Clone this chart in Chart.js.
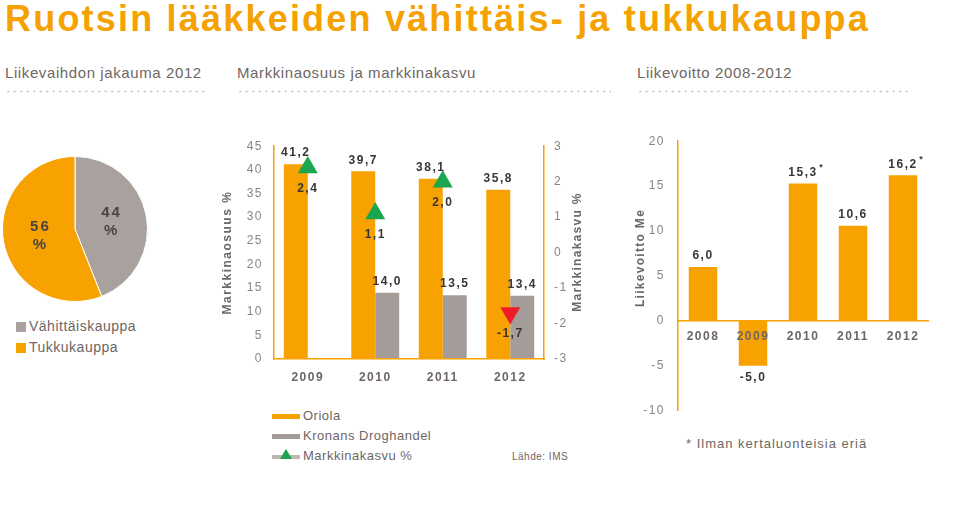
<!DOCTYPE html>
<html>
<head>
<meta charset="utf-8">
<script src="https://cdn.jsdelivr.net/npm/chart.js@4.4.1/dist/chart.umd.min.js"></script>
<style>
  body { margin:0; background:#fff; font-family:"Liberation Sans", Arial, sans-serif; }
  #page { position:relative; width:960px; height:531px; overflow:hidden; }
  .abs { position:absolute; }
  #title { left:5px; top:-2px; font:bold 36px "Liberation Sans Narrow", "Liberation Sans", sans-serif; color:#F5A200; letter-spacing:2.2px; white-space:nowrap; }
  .sub { top:64px; font:15px "Liberation Sans Narrow", "Liberation Sans", sans-serif; color:#6e6663; letter-spacing:0.6px; white-space:nowrap; }
  .dots { top:90px; height:3px; background-image:radial-gradient(circle, #b9b3b0 0.8px, transparent 1.1px); background-size:6.5px 3px; }
  .leg { font-size:13px; color:#6e6663; letter-spacing:0.5px; white-space:nowrap; }
  .sw { display:inline-block; vertical-align:middle; }
  .vt { width:140px; height:16px; line-height:16px; text-align:center; transform:rotate(-90deg); font:bold 12px "Liberation Sans", Arial, sans-serif; color:#6e6663; letter-spacing:1.3px; white-space:nowrap; }
  canvas { display:block; }
</style>
</head>
<body>
<div id="page">
  <div id="title" class="abs">Ruotsin lääkkeiden vähittäis- ja tukkukauppa</div>
  <div class="abs sub" style="left:5px">Liikevaihdon jakauma 2012</div>
  <div class="abs sub" style="left:237px">Markkinaosuus ja markkinakasvu</div>
  <div class="abs sub" style="left:637px">Liikevoitto 2008-2012</div>
  <div class="abs dots" style="left:5px;width:202px"></div>
  <div class="abs dots" style="left:237px;width:374px"></div>
  <div class="abs dots" style="left:637px;width:275px"></div>

  <div class="abs" style="left:0;top:156px;width:150px;height:146px"><canvas id="pie"></canvas></div>
  <div class="abs leg" style="left:16px;top:318px;font-size:14px"><span class="sw" style="width:10px;height:10px;background:#A8A19D;margin-right:3px"></span>Vähittäiskauppa</div>
  <div class="abs leg" style="left:16px;top:339px;font-size:14px"><span class="sw" style="width:10px;height:10px;background:#F7A200;margin-right:3px"></span>Tukkukauppa</div>

  <div class="abs" style="left:215px;top:128px;width:380px;height:265px"><canvas id="share"></canvas></div>
  <div class="abs vt" style="left:508px;top:244px">Markkinakasvu %</div>
  <div class="abs leg" style="left:272px;top:408px"><span class="sw" style="width:28px;height:5px;background:#F7A200;margin-right:3px"></span>Oriola</div>
  <div class="abs leg" style="left:272px;top:428px"><span class="sw" style="width:28px;height:5px;background:#A39C98;margin-right:3px"></span>Kronans Droghandel</div>
  <div class="abs leg" style="left:272px;top:448px"><span class="sw" style="position:relative;width:28px;height:4px;background:#bdb7b4;margin-right:3px"><span style="position:absolute;left:8px;top:-6px;width:0;height:0;border-left:6px solid transparent;border-right:6px solid transparent;border-bottom:10px solid #1AA64E"></span></span>Markkinakasvu %</div>
  <div class="abs leg" style="left:512px;top:451px;font-size:10px">Lähde: IMS</div>

  <div class="abs" style="left:620px;top:121px;width:330px;height:310px"><canvas id="ebit"></canvas></div>
  <div class="abs vt" style="left:571px;top:250px">Liikevoitto Me</div>
  <div class="abs leg" style="left:686px;top:436px;font-size:13px;letter-spacing:1px">* Ilman kertaluonteisia eriä</div>
</div>
<script>
// Liikevaihdon jakauma 2012
const pieLabels = ['Vähittäiskauppa', 'Tukkukauppa'];
const pieValues = [44, 56];

// Markkinaosuus ja markkinakasvu
const shareYears = ['2009', '2010', '2011', '2012'];
const oriolaShare = [41.2, 39.7, 38.1, 35.8];
const kronansShare = [null, 14.0, 13.5, 13.4];
const marketGrowth = [2.4, 1.1, 2.0, -1.7];
const shareTicks = [0, 45, 5];
const growthTicks = [-3, 3, 1];

// Liikevoitto 2008-2012
const ebitYears = ['2008', '2009', '2010', '2011', '2012'];
const ebitValues = [6.0, -5.0, 15.3, 10.6, 16.2];
const ebitNote = [false, false, true, false, true];
const ebitTicks = [-10, 20, 5];

const ORANGE = '#F7A200', GREY = '#A39C98', TXT = '#8c8482', DARK = '#3b3535';
const GREEN = '#1AA64E', RED = '#EE1C24';
const FONT = '"Liberation Sans", Arial, sans-serif';
Chart.defaults.font.family = FONT;
Chart.defaults.color = TXT;
Chart.defaults.animation = false;
Chart.defaults.plugins.legend.display = false;
Chart.defaults.plugins.tooltip.enabled = false;

const fmt = v => v.toFixed(1).replace('.', ',');

const spacing = {
  id: 'spacing',
  beforeDraw(chart){ chart.ctx.letterSpacing = '1.5px'; },
  afterDraw(chart){ chart.ctx.letterSpacing = '0px'; }
};

const valueLabels = {
  id: 'valueLabels',
  afterDatasetsDraw(chart){
    const ctx = chart.ctx;
    ctx.save();
    ctx.letterSpacing = '1.5px';
    ctx.font = 'bold 12px ' + FONT;
    ctx.fillStyle = DARK;
    ctx.textAlign = 'center';
    ctx.textBaseline = 'middle';
    chart.data.datasets.forEach((ds, di) => {
      const meta = chart.getDatasetMeta(di);
      meta.data.forEach((el, i) => {
        const v = ds.data[i];
        if (v == null) return;
        const txt = fmt(v);
        let y;
        if (ds.type === 'line') y = el.y + 21;
        else y = v >= 0 ? el.y - 11 : el.y + 12;
        ctx.fillText(txt, el.x, y);
        if (ds.notes && ds.notes[i]) {
          const w = ctx.measureText(txt).width;
          ctx.font = 'bold 9px ' + FONT;
          ctx.fillText('*', el.x + w / 2 + 4, y - 5);
          ctx.font = 'bold 12px ' + FONT;
        }
      });
    });
    ctx.restore();
  }
};

const pieText = {
  id: 'pieText',
  afterDatasetsDraw(chart){
    const ctx = chart.ctx;
    ctx.save();
    ctx.letterSpacing = '2px';
    ctx.font = 'bold 15px ' + FONT;
    ctx.fillStyle = '#4a4340';
    ctx.textAlign = 'center';
    ctx.textBaseline = 'middle';
    chart.getDatasetMeta(0).data.forEach((arc, i) => {
      const p = arc.tooltipPosition();
      ctx.fillText(String(pieValues[i]), p.x + 1, p.y - 9);
      ctx.fillText('%', p.x + 1, p.y + 9);
    });
    ctx.restore();
  }
};

new Chart(document.getElementById('pie'), {
  type: 'pie',
  data: { labels: pieLabels, datasets: [{ data: pieValues, backgroundColor: ['#A8A19D', ORANGE], borderColor: '#fff', borderWidth: 1 }] },
  options: { responsive: true, maintainAspectRatio: false, layout: { padding: 0 } },
  plugins: [pieText]
});

const noGrid = { display: false, drawTicks: false };
const axisBorder = { color: ORANGE, width: 1.5, z: 1 };

new Chart(document.getElementById('share'), {
  type: 'bar',
  data: {
    labels: shareYears,
    datasets: [
      { type: 'line', data: marketGrowth, yAxisID: 'y1', showLine: false, order: 0,
        pointStyle: 'triangle', pointRadius: 11.5, pointBorderWidth: 0,
        pointRotation: marketGrowth.map(v => v < 0 ? 180 : 0),
        pointBackgroundColor: marketGrowth.map(v => v < 0 ? RED : GREEN) },
      { label: 'Oriola', data: oriolaShare, backgroundColor: ORANGE, order: 1 },
      { label: 'Kronans Droghandel', data: kronansShare, backgroundColor: GREY, order: 1 }
    ]
  },
  options: {
    responsive: true, maintainAspectRatio: false,
    layout: { padding: { top: 12, left: 0, right: 0, bottom: 0 } },
    datasets: { bar: { categoryPercentage: 0.71, barPercentage: 1 } },
    scales: {
      x: { grid: noGrid, border: axisBorder,
           ticks: { color: '#6e6663', font: { size: 12, weight: 'bold' }, padding: 11 },
           afterFit: s => { s.height = 34; } },
      y: { position: 'left', min: shareTicks[0], max: shareTicks[1], grid: noGrid, border: axisBorder,
           ticks: { stepSize: shareTicks[2], font: { size: 12 }, padding: 11 },
           title: { display: true, text: 'Markkinaosuus %', color: '#6e6663', font: { size: 12, weight: 'bold' }, padding: { top: 5, bottom: 0 } },
           afterFit: s => { s.width = 59; } },
      y1: { position: 'right', min: growthTicks[0], max: growthTicks[1], grid: noGrid, border: axisBorder,
            ticks: { stepSize: growthTicks[2], font: { size: 12 }, padding: 10 },
            afterFit: s => { s.width = 51; } }
    }
  },
  plugins: [spacing, valueLabels]
});

new Chart(document.getElementById('ebit'), {
  type: 'bar',
  data: {
    labels: ebitYears,
    datasets: [{ data: ebitValues, notes: ebitNote, backgroundColor: ORANGE, categoryPercentage: 0.57, barPercentage: 1 }]
  },
  options: {
    responsive: true, maintainAspectRatio: false,
    layout: { padding: { top: 12, left: 0, right: 22, bottom: 11 } },
    scales: {
      x: { position: { y: 0 }, grid: noGrid, border: axisBorder,
           ticks: { z: 1, color: '#6e6663', font: { size: 12, weight: 'bold' }, padding: 9 } },
      y: { min: ebitTicks[0], max: ebitTicks[1], grid: noGrid, border: axisBorder,
           ticks: { stepSize: ebitTicks[2], font: { size: 12 }, padding: 13 },
           afterFit: s => { s.width = 58; } }
    }
  },
  plugins: [spacing, valueLabels]
});
</script>
</body>
</html>
